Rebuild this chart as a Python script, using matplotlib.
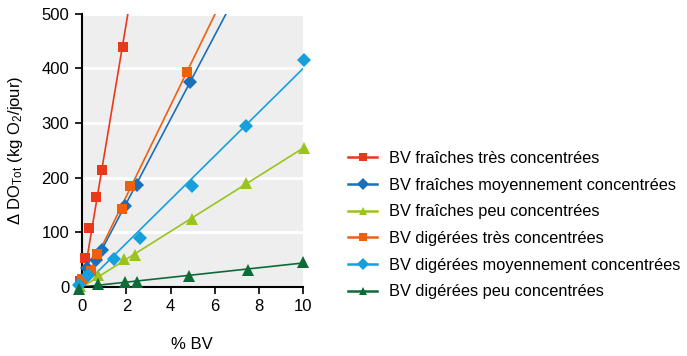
import numpy as np
import matplotlib
matplotlib.use('Agg')
import matplotlib.pyplot as plt
from matplotlib.lines import Line2D

plt.rcParams['font.family'] = ['Liberation Sans', 'DejaVu Sans']
plt.rcParams['mathtext.fontset'] = 'custom'
plt.rcParams['mathtext.rm'] = 'Liberation Sans'
plt.rcParams['mathtext.it'] = 'Liberation Sans:italic'

# --- donnees (% BV, delta DO en kg O2/jour) ---
labels = [
    'BV fraîches très concentrées',
    'BV fraîches moyennement concentrées',
    'BV fraîches peu concentrées',
    'BV digérées très concentrées',
    'BV digérées moyennement concentrées',
    'BV digérées peu concentrées',
]
colors = ['#E8391A', '#1A70B8', '#9AC31E', '#EE6010', '#15A0DC', '#0E6B38']
markers = ['s', 'D', '^', 's', 'D', '^']

fr_tres_x = [-0.1, 0.12, 0.3, 0.64, 0.88, 1.86]
fr_tres_y = [10, 53, 108, 164, 215, 440]
fr_moy_x = [0.23, 0.61, 0.88, 1.94, 2.47, 4.9]
fr_moy_y = [35, 50, 68, 149, 187, 376]
fr_peu_x = [-0.1, 0.73, 1.9, 2.4, 4.97, 7.43, 10.05]
fr_peu_y = [2, 21, 51, 58, 125, 190, 255]
dg_tres_x = [0.0, 0.38, 0.68, 1.79, 2.18, 4.73]
dg_tres_y = [15, 30, 60, 142, 185, 393]
dg_moy_x = [-0.15, 0.27, 1.44, 2.62, 4.96, 7.43, 10.05]
dg_moy_y = [4, 22, 52, 89, 184, 295, 415]
dg_peu_x = [-0.15, 0.73, 1.94, 2.47, 4.85, 7.5, 10.0]
dg_peu_y = [-4, 6, 9, 9, 20, 31, 46]

series = [
    (fr_tres_x, fr_tres_y),
    (fr_moy_x, fr_moy_y),
    (fr_peu_x, fr_peu_y),
    (dg_tres_x, dg_tres_y),
    (dg_moy_x, dg_moy_y),
    (dg_peu_x, dg_peu_y),
]
msizes = {'s': 7.5, 'D': 7.5, '^': 8}

fig = plt.figure(figsize=(6.87, 3.56), dpi=100)
ax = fig.add_axes([0.119, 0.194, 0.322, 0.767])
ax.set_facecolor('#EEEEEE')

xfit = np.linspace(0, 10, 200)
# droites de regression passant par l'origine, puis les points mesures
for (x, y), c, m in zip(series, colors, markers):
    x = np.asarray(x, float)
    y = np.asarray(y, float)
    slope = np.sum(x * y) / np.sum(x * x)
    ax.plot(xfit, slope * xfit, color=c, lw=1.2, zorder=2)
for (x, y), c, m in zip(series, colors, markers):
    ax.plot(x, y, ls='none', marker=m, color=c, ms=msizes[m],
            markeredgewidth=0, zorder=3, clip_on=False)

ax.set_xlim(-0.02, 10)
ax.set_ylim(0, 500)
ax.set_xticks([0, 2, 4, 6, 8, 10])
ax.set_yticks([0, 100, 200, 300, 400, 500])
ax.yaxis.grid(True, color='white', lw=2)
ax.set_axisbelow(True)
for side in ('top', 'right'):
    ax.spines[side].set_visible(False)
for side in ('left', 'bottom'):
    ax.spines[side].set_linewidth(1.5)
ax.tick_params(direction='out', length=5, width=1.2, labelsize=12, pad=4)
ax.set_xlabel('% BV', fontsize=12, labelpad=16)
ax.set_ylabel(r'$\Delta$ DO$_{\mathrm{Tot}}$ (kg O$_2$/jour)', fontsize=12, labelpad=12)

handles = [Line2D([0], [0], color=c, marker=m, ms=6, lw=1.8, markeredgewidth=0)
           for c, m in zip(colors, markers)]
fig.legend(handles, labels, loc='upper left', bbox_to_anchor=(0.497, 0.594),
           frameon=False, fontsize=11.8, handlelength=1.8, handletextpad=0.7,
           labelspacing=0.71, borderaxespad=0)

fig.savefig('out.png', dpi=100)
